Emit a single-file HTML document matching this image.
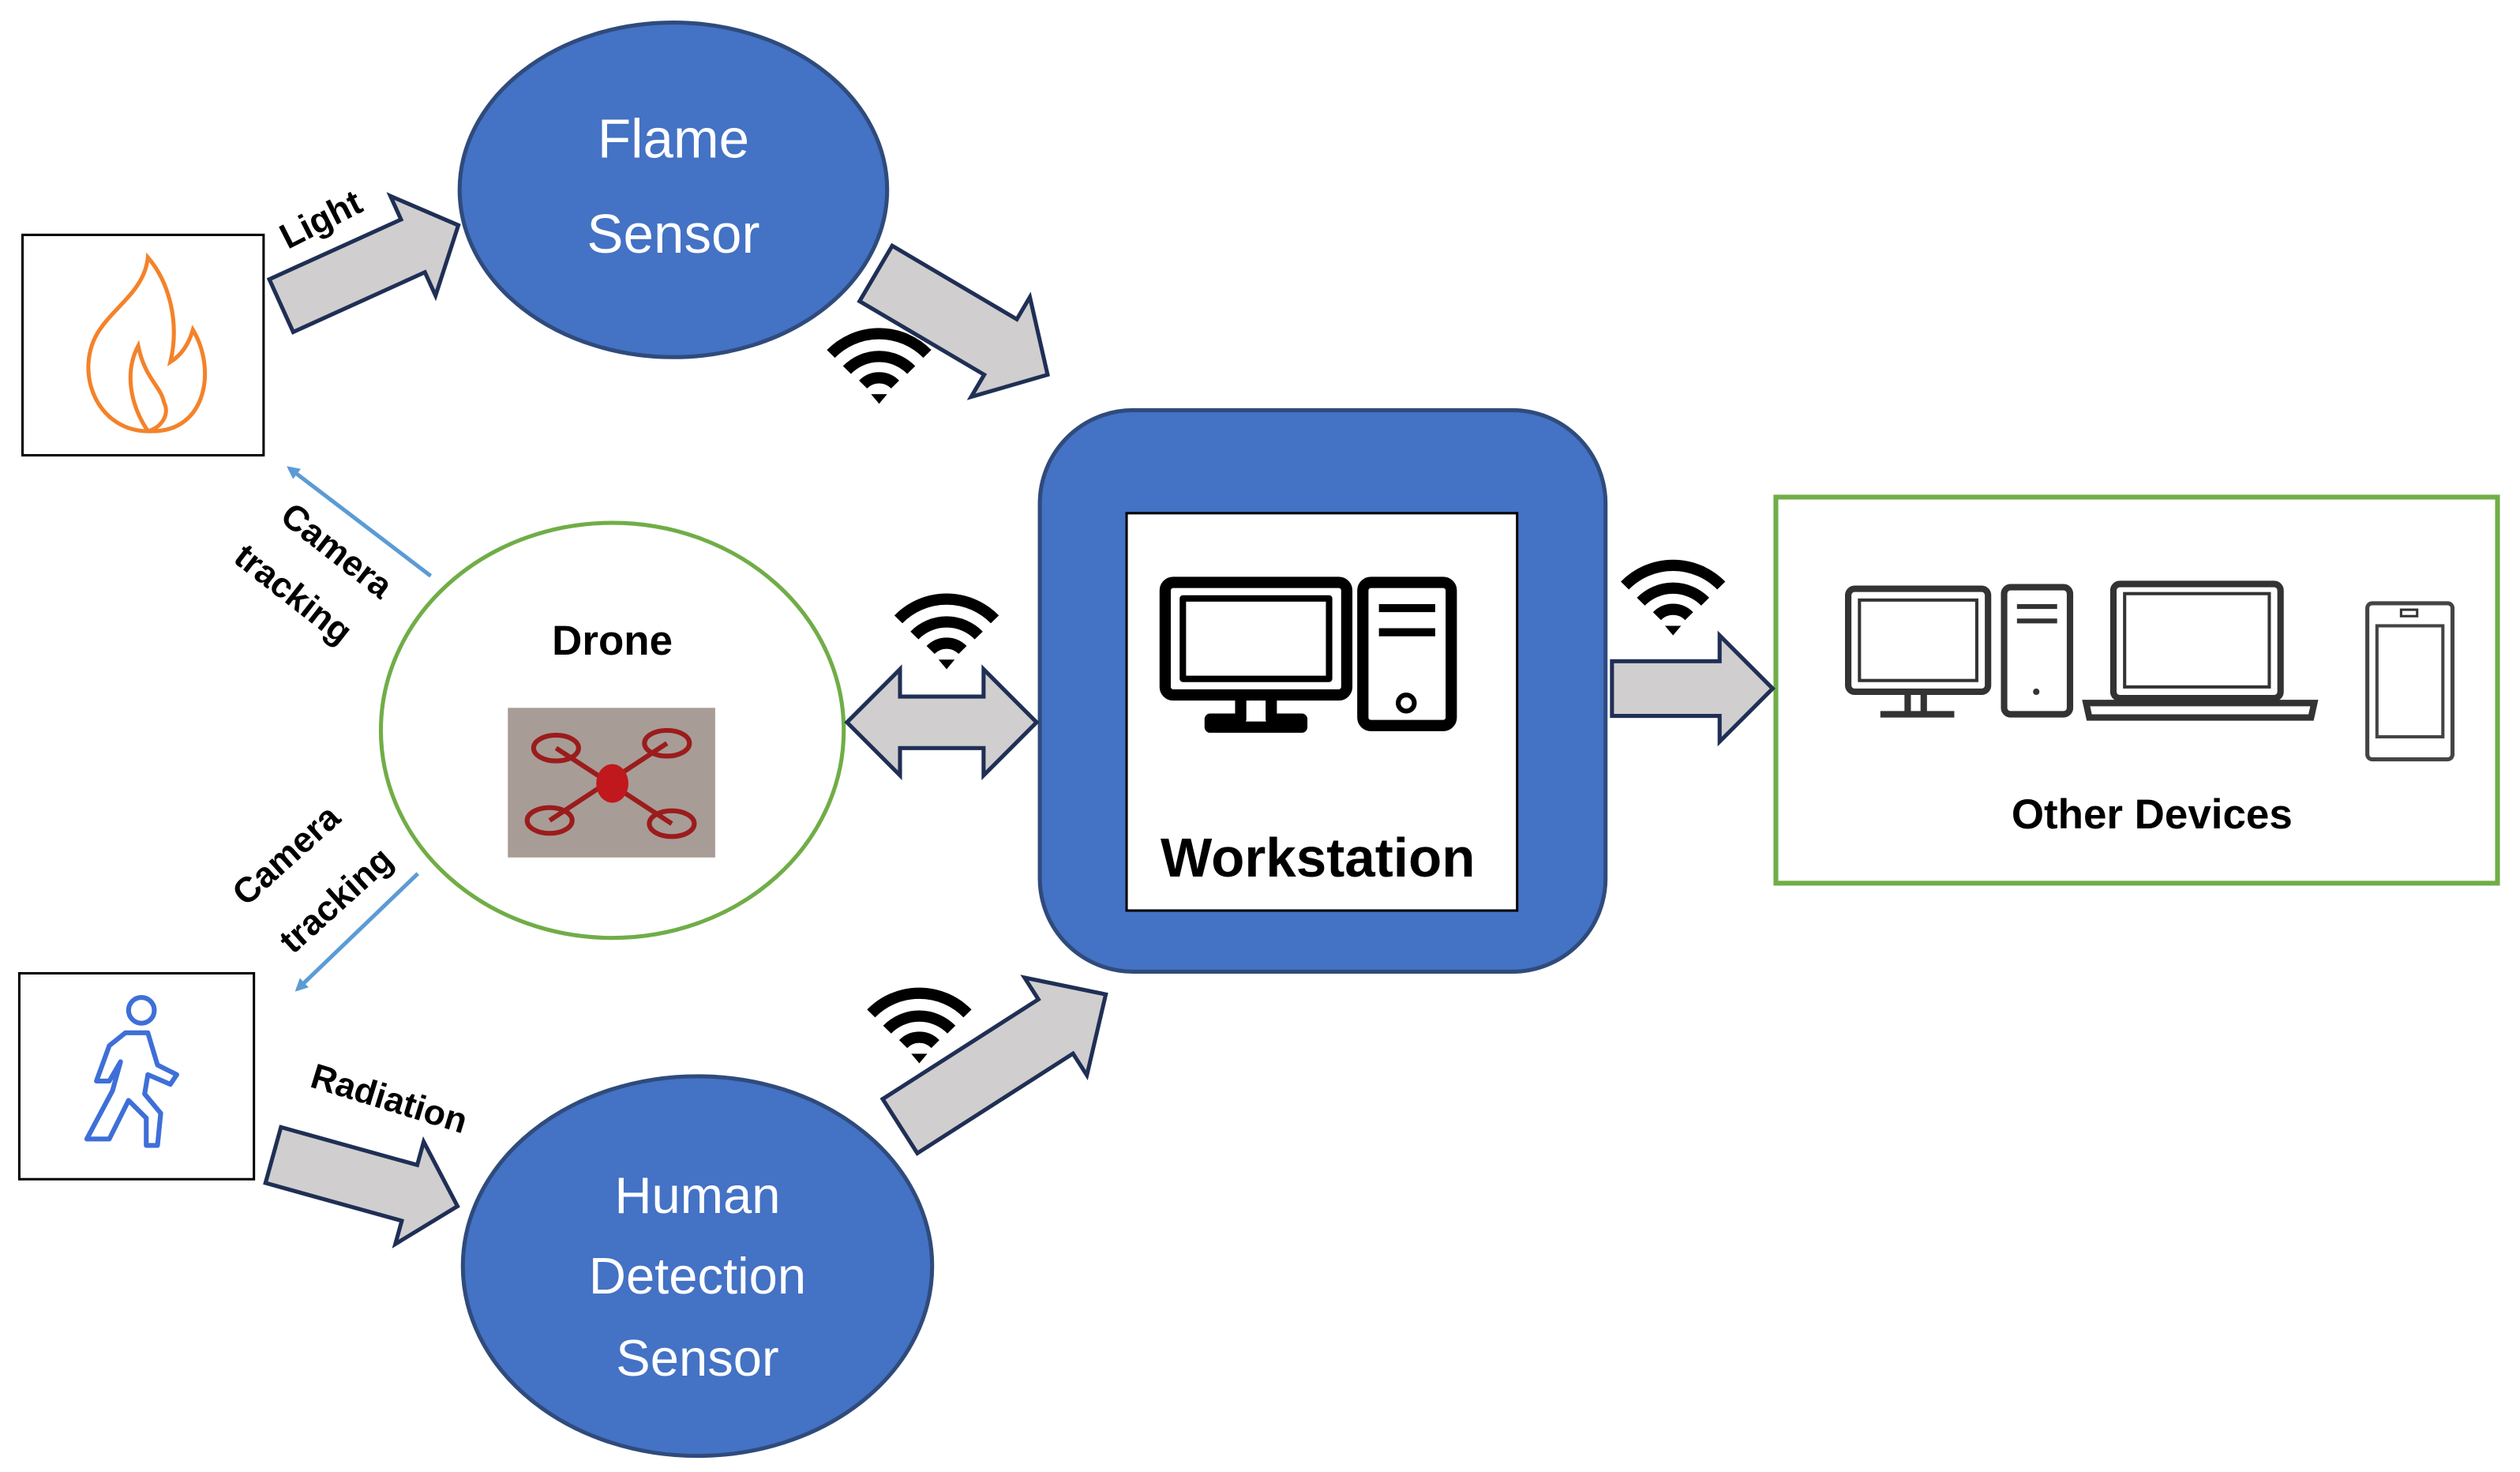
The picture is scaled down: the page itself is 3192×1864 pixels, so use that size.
<!DOCTYPE html>
<html><head><meta charset="utf-8"><style>
html,body{margin:0;padding:0;background:#fff;}
svg{display:block;}
text{font-family:"Liberation Sans",sans-serif;}
</style></head><body>
<svg width="3192" height="1864" viewBox="0 0 1568 915" preserveAspectRatio="none" xmlns="http://www.w3.org/2000/svg">
<defs>
<marker id="bh" markerWidth="8" markerHeight="8" refX="6" refY="4" orient="auto" markerUnits="userSpaceOnUse"><path d="M0,0 L8,4 L0,8 z" fill="#5B9BD5"/></marker>
<g id="wifi">
<path d="M-30,-8 A42,42 0 0 1 30,-8" fill="none" stroke="#000" stroke-width="7"/>
<path d="M-20,2 A28,28 0 0 1 20,2" fill="none" stroke="#000" stroke-width="7"/>
<path d="M-10,11 A14,14 0 0 1 10,11" fill="none" stroke="#000" stroke-width="7"/>
<path d="M-5,17 L5,17 L0,23 z" fill="#000"/>
</g>
</defs>
<rect width="1568" height="915" fill="#fff"/>

<!-- Flame sensor -->
<ellipse cx="419" cy="118" rx="133" ry="104" fill="#4472C4" stroke="#2F4B7C" stroke-width="2.5"/>
<text x="419" y="98" font-size="34" fill="#fff" text-anchor="middle">Flame</text>
<text x="419" y="157" font-size="34" fill="#fff" text-anchor="middle">Sensor</text>

<!-- Human detection -->
<ellipse cx="434" cy="787" rx="146" ry="118" fill="#4472C4" stroke="#2F4B7C" stroke-width="2.5"/>
<text x="434" y="754" font-size="32" fill="#fff" text-anchor="middle">Human</text>
<text x="434" y="804" font-size="32" fill="#fff" text-anchor="middle">Detection</text>
<text x="434" y="855" font-size="32" fill="#fff" text-anchor="middle">Sensor</text>

<!-- Flame box -->
<rect x="14" y="146" width="150" height="137" fill="#fff" stroke="#000" stroke-width="1.5"/>
<path d="M95,268 C60,270 45,230 62,205 C72,190 90,180 92,160 C105,175 112,200 106,225 C114,220 118,212 120,205 C135,230 128,268 95,268 Z M92,268 C80,250 78,230 86,215 C90,235 100,240 102,250 C106,258 100,266 92,268" fill="none" stroke="#F4822A" stroke-width="2.5"/>

<!-- Human box -->
<rect x="12" y="605" width="146" height="128" fill="#fff" stroke="#000" stroke-width="1.5"/>
<g fill="none" stroke="#3E6FD8" stroke-width="3" stroke-linejoin="round" stroke-linecap="round">
<circle cx="88" cy="628" r="8"/>
<path d="M78,642 L92,642 L98,662 L110,668 L106,674 L92,668 L90,680 L100,692 L98,712 L91,712 L91,695 L80,684 L68,708 L54,708 L70,678 L75,660 L68,672 L60,672 L68,650 Z"/>
</g>

<!-- Drone -->
<ellipse cx="381" cy="454" rx="144" ry="129" fill="#fff" stroke="#70AD47" stroke-width="2.5"/>
<text x="381" y="407" font-size="26" font-weight="bold" text-anchor="middle">Drone</text>
<rect x="316" y="440" width="129" height="93" fill="#A89C96"/>
<g fill="none" stroke="#9B1C1C" stroke-width="3">
<ellipse cx="346" cy="465" rx="14" ry="8"/><ellipse cx="415" cy="462" rx="14" ry="8"/>
<ellipse cx="342" cy="510" rx="14" ry="8"/><ellipse cx="418" cy="512" rx="14" ry="8"/>
<path d="M346,465 L418,512 M415,462 L342,510"/>
</g>
<ellipse cx="381" cy="487" rx="10" ry="12" fill="#C0181C"/>

<!-- Workstation -->
<rect x="647" y="255" width="352" height="349" rx="58" fill="#4472C4" stroke="#2F4B7C" stroke-width="2.5"/>
<rect x="701" y="319" width="243" height="247" fill="#fff" stroke="#000" stroke-width="1.5"/>
<g fill="none" stroke="#000" stroke-width="7" stroke-linejoin="round">
<rect x="725" y="362" width="113" height="70" rx="5"/>
<rect x="736" y="372" width="91" height="50" stroke-width="4"/>
<path d="M772,432 L772,447 L753,447 L753,452 L810,452 L810,447 L791,447 L791,432"/>
<rect x="848" y="362" width="55" height="89" rx="5"/>
<path d="M858,378 L893,378 M858,393 L893,393" stroke-width="5"/>
</g>
<circle cx="875" cy="437" r="5" fill="none" stroke="#000" stroke-width="3"/>
<text x="820" y="545" font-size="34" font-weight="bold" text-anchor="middle">Workstation</text>

<!-- Other devices -->
<rect x="1105" y="309" width="449" height="240" fill="#fff" stroke="#70AD47" stroke-width="3"/>
<g fill="none" stroke="#333" stroke-width="4">
<rect x="1150" y="366" width="87" height="64" rx="4"/>
<rect x="1157" y="373" width="73" height="50" stroke-width="2"/>
<path d="M1187,430 L1187,443 M1197,430 L1197,443 M1170,444 L1216,444"/>
<rect x="1247" y="365" width="41" height="79" rx="4"/>
<path d="M1255,377 L1280,377 M1255,386 L1280,386" stroke-width="3"/>
<rect x="1315" y="363" width="104" height="71" rx="4"/>
<rect x="1322" y="369" width="90" height="58" stroke-width="2"/>
<path d="M1298,437 L1440,437 L1438,446 L1300,446 Z"/>
<rect x="1473" y="375" width="53" height="97" rx="3" stroke="#444" stroke-width="2.5"/>
<rect x="1479" y="389" width="41" height="69" stroke="#444" stroke-width="2"/>
<rect x="1494" y="379" width="10" height="4" stroke-width="1.5"/>
</g>
<circle cx="1267" cy="430" r="2" fill="#333"/>
<text x="1339" y="515" font-size="26" font-weight="bold" text-anchor="middle">Other Devices</text>

<!-- Block arrows -->
<g fill="#D0CECE" stroke="#1F2F55" stroke-width="2.5" stroke-linejoin="miter">
<!-- Light -->
<polygon transform="translate(175,190) rotate(-24.4)" points="0,-18 90,-18 90,-34 121,0 90,34 90,18 0,18"/>
<!-- Flame -> WS -->
<polygon transform="translate(545,170) rotate(30.5)" points="0,-20 90,-20 90,-36 124,0 90,36 90,20 0,20"/>
<!-- Human -> WS -->
<polygon transform="translate(560,700) rotate(-32.6)" points="0,-20 115,-20 115,-36 152,0 115,36 115,20 0,20"/>
<!-- Radiation -->
<polygon transform="translate(170,718) rotate(15.5)" points="0,-18 88,-18 88,-33 119,0 88,33 88,18 0,18"/>
<!-- Right -->
<polygon points="1003,411 1070,411 1070,395 1103,428 1070,461 1070,445 1003,445"/>
<!-- Double -->
<polygon points="527,449 560,416 560,433 612,433 612,416 645,449 612,482 612,465 560,465 560,482"/>
</g>

<!-- Blue thin arrows -->
<line x1="268" y1="358" x2="180" y2="291" stroke="#5B9BD5" stroke-width="2.5" marker-end="url(#bh)"/>
<line x1="260" y1="543" x2="185" y2="615" stroke="#5B9BD5" stroke-width="2.5" marker-end="url(#bh)"/>

<!-- Labels -->
<text transform="translate(203,143) rotate(-27)" font-size="22" font-weight="bold" text-anchor="middle">Light</text>
<text transform="translate(240,690) rotate(17)" font-size="22" font-weight="bold" text-anchor="middle">Radiation</text>
<text transform="translate(205,348) rotate(38)" font-size="22" font-weight="bold" text-anchor="middle">Camera</text>
<text transform="translate(178,375) rotate(38)" font-size="22" font-weight="bold" text-anchor="middle">tracking</text>
<text transform="translate(183,537) rotate(-42)" font-size="22" font-weight="bold" text-anchor="middle">Camera</text>
<text transform="translate(214,565) rotate(-42)" font-size="22" font-weight="bold" text-anchor="middle">tracking</text>

<!-- wifi -->
<use href="#wifi" transform="translate(547,228)"/>
<use href="#wifi" transform="translate(589,393)"/>
<use href="#wifi" transform="translate(572,638)"/>
<use href="#wifi" transform="translate(1041,372)"/>
</svg>
</body></html>
